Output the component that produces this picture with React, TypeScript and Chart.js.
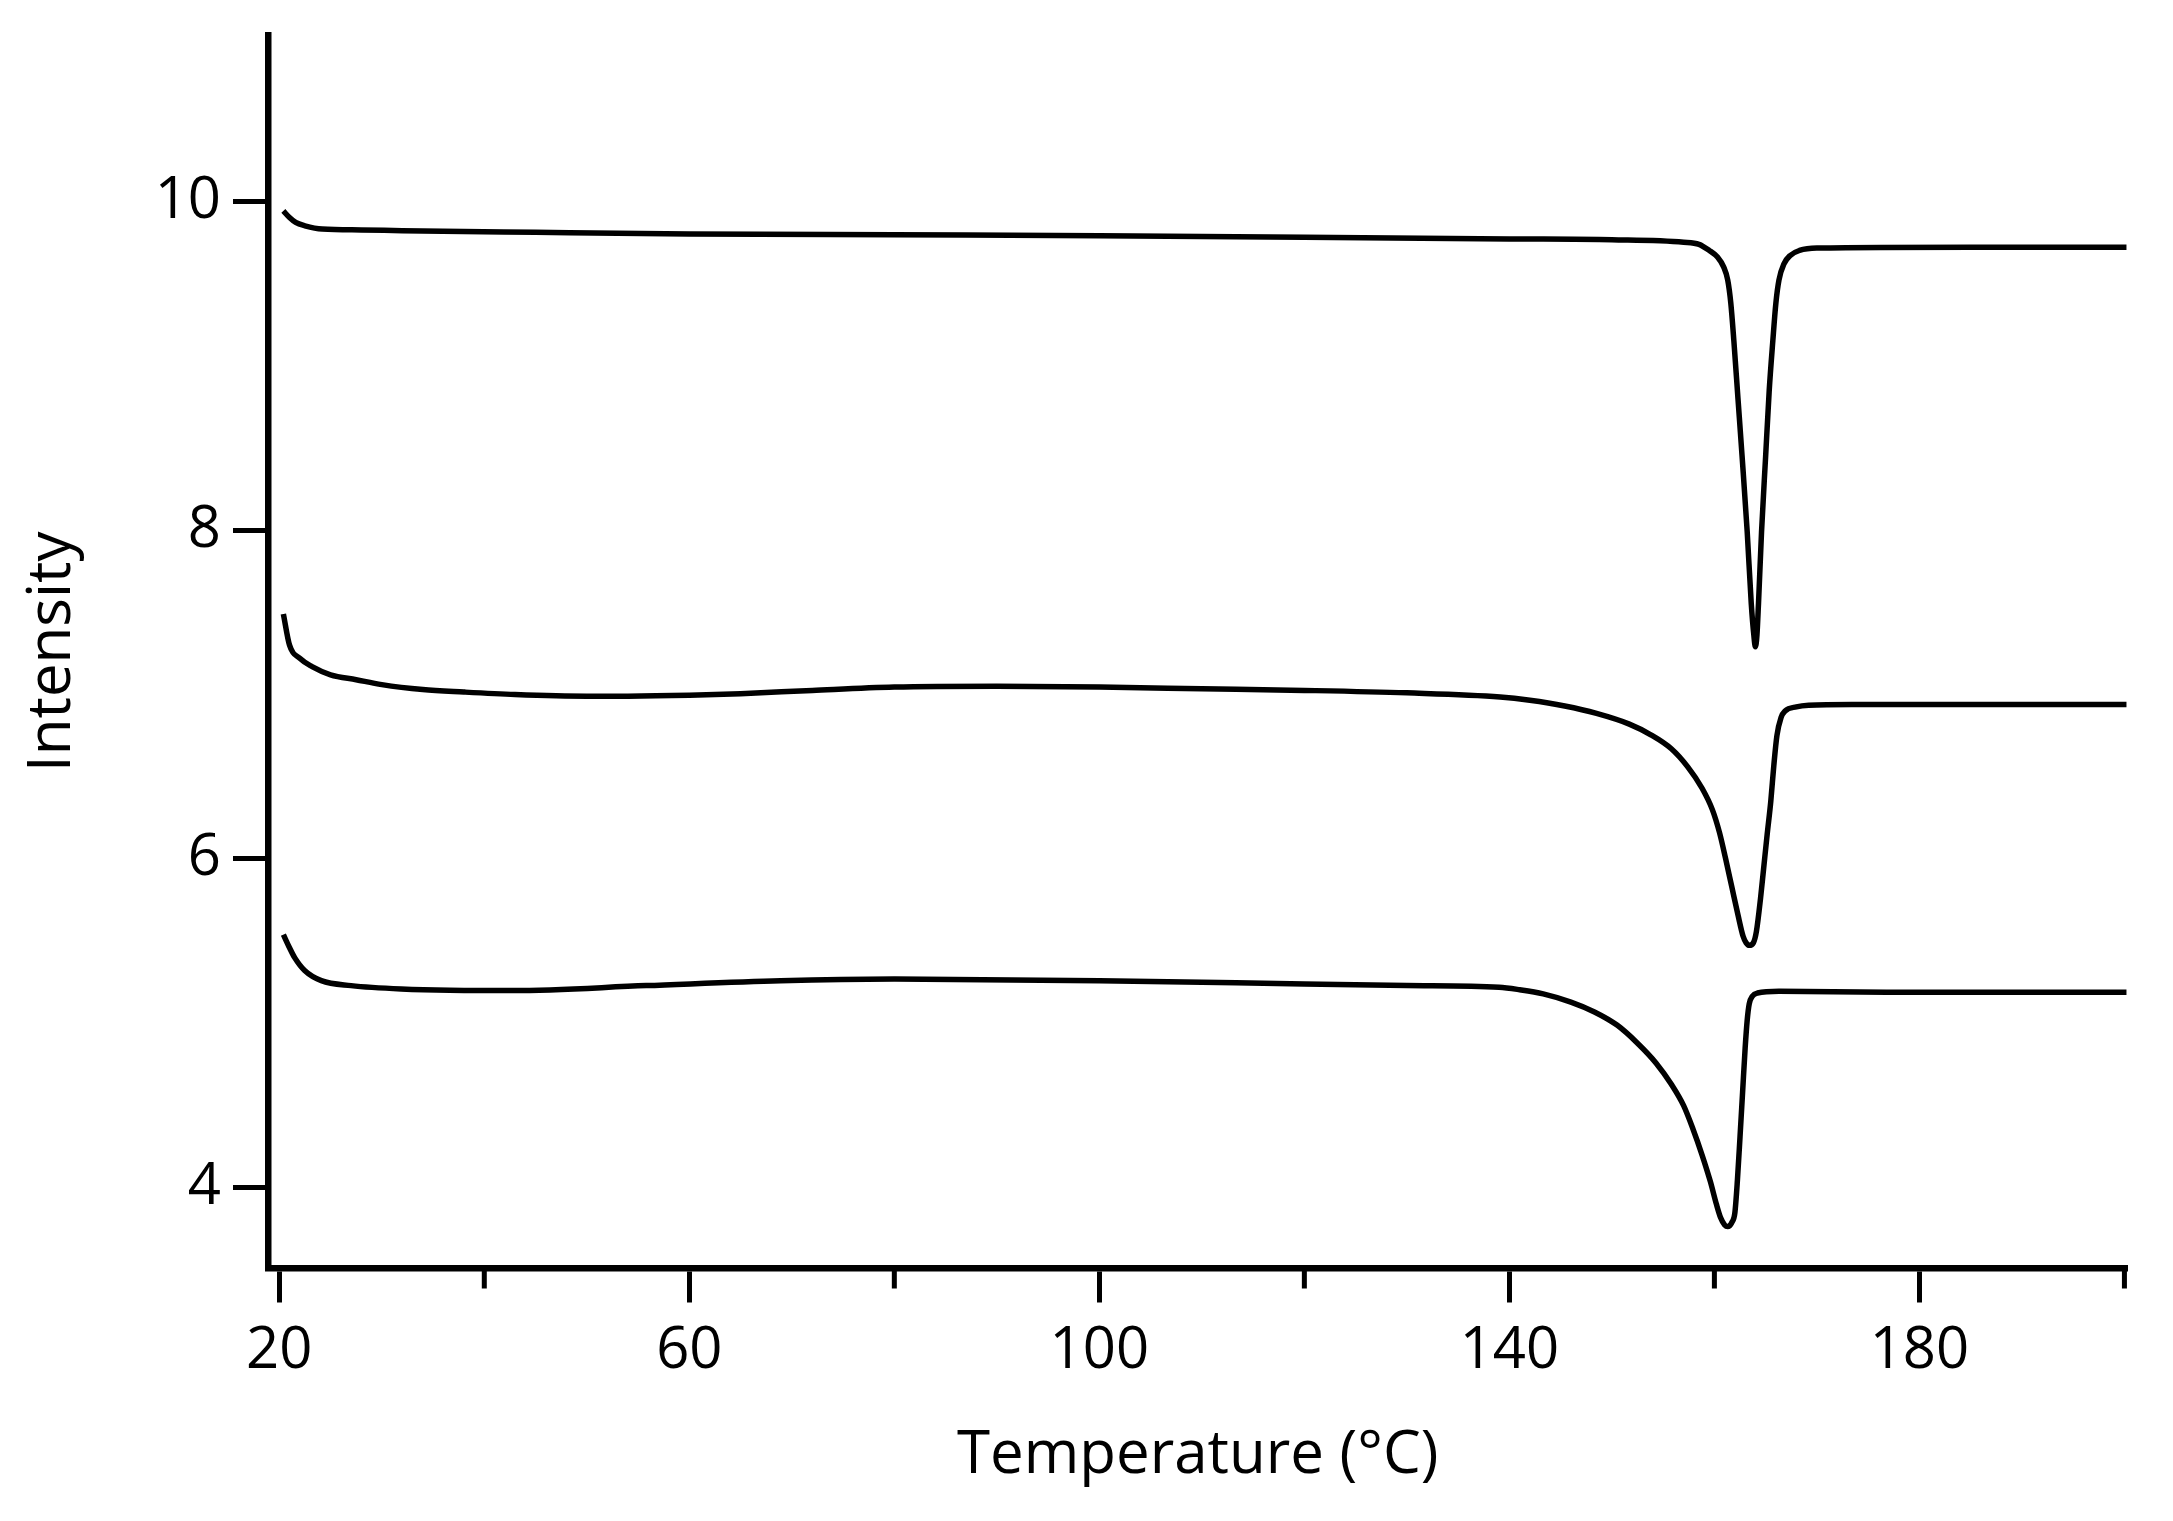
import React, { useEffect, useRef } from 'react';
import { Chart, registerables } from 'chart.js';

Chart.register(...registerables);

// ---- Data ----
const xMajorTicks = [20, 60, 100, 140, 180];
const xMinorTicks = [40, 80, 120, 160, 200];
const yTickValues = [4, 6, 8, 10];

const topTemp = [20.4, 21.0, 21.6, 22.5, 24.2, 28, 32, 45, 60, 80, 100, 120, 140, 150, 157, 158.5, 159.5, 160.3, 160.9, 161.3, 161.6, 161.9, 162.3, 162.7, 163.2, 163.6, 163.85, 164.0, 164.15, 164.3, 164.6, 165.0, 165.35, 165.7, 166.0, 166.3, 166.8, 167.4, 168.3, 170, 185, 200.2];
const topVal = [9.94, 9.9, 9.87, 9.85, 9.83, 9.825, 9.82, 9.81, 9.8, 9.795, 9.79, 9.78, 9.77, 9.765, 9.75, 9.737, 9.7, 9.66, 9.6, 9.52, 9.38, 9.15, 8.8, 8.45, 7.99, 7.55, 7.36, 7.29, 7.36, 7.55, 7.99, 8.45, 8.85, 9.15, 9.38, 9.52, 9.62, 9.67, 9.7, 9.715, 9.72, 9.72];

const midTemp = [20.4, 21.0, 22.0, 23.2, 25, 27.5, 30, 34, 38, 43, 50, 54, 60, 65, 72, 80, 90, 100, 110, 120, 130, 139.1, 142, 145.4, 148.5, 151.7, 153.8, 155.8, 157.4, 158.8, 159.8, 160.5, 161.1, 161.7, 162.3, 162.8, 163.1, 163.4, 163.8, 164.1, 164.5, 164.8, 165.15, 165.5, 165.8, 166.1, 166.5, 166.9, 168, 169.2, 173.4, 185, 200.2];
const midVal = [7.49, 7.3, 7.22, 7.17, 7.12, 7.09, 7.06, 7.03, 7.015, 7.0, 6.99, 6.99, 6.995, 7.005, 7.025, 7.045, 7.05, 7.045, 7.035, 7.025, 7.01, 6.985, 6.965, 6.93, 6.885, 6.82, 6.755, 6.67, 6.56, 6.43, 6.3, 6.16, 6.0, 5.83, 5.66, 5.53, 5.49, 5.475, 5.49, 5.56, 5.76, 5.94, 6.15, 6.35, 6.57, 6.75, 6.86, 6.9, 6.925, 6.935, 6.94, 6.94, 6.94];

const botTemp = [20.4, 21.0, 21.5, 22.5, 24.1, 27, 31.9, 42.8, 55.8, 68.9, 80, 100, 120, 130, 139, 141, 143.3, 146, 148.3, 150.5, 152.5, 154.3, 155.8, 157, 157.9, 158.8, 159.6, 160.2, 160.6, 161.0, 161.3, 161.7, 162.0, 162.25, 162.5, 162.75, 163.0, 163.2, 163.4, 163.7, 164.2, 166.3, 176.8, 200.2];
const botVal = [5.54, 5.46, 5.4, 5.32, 5.26, 5.23, 5.21, 5.2, 5.23, 5.26, 5.27, 5.26, 5.24, 5.23, 5.22, 5.205, 5.18, 5.13, 5.07, 4.99, 4.88, 4.76, 4.63, 4.5, 4.36, 4.2, 4.04, 3.9, 3.82, 3.775, 3.765, 3.79, 3.85, 4.05, 4.31, 4.58, 4.85, 5.02, 5.12, 5.165, 5.185, 5.195, 5.19, 5.19];

const xTitle = 'Temperature (°C)';
const yTitle = 'Intensity';

const FONT = "'Open Sans', 'Noto Sans', sans-serif";

function toPoints(xs: number[], ys: number[]) {
  return xs.map((x, i) => ({ x, y: ys[i] }));
}

const minorTickPlugin = {
  id: 'minorTicks',
  afterDraw(chart: any) {
    const xs = chart.scales.x;
    const ctx = chart.ctx;
    ctx.save();
    ctx.strokeStyle = '#000';
    ctx.lineWidth = 5;
    ctx.beginPath();
    for (const v of xMinorTicks) {
      const px = xs.getPixelForValue(v);
      ctx.moveTo(px, xs.top);
      ctx.lineTo(px, xs.top + 20);
    }
    ctx.stroke();
    ctx.restore();
  },
};

export default function App() {
  const ref = useRef<HTMLCanvasElement>(null);

  useEffect(() => {
    document.body.style.margin = '0';
    const allX = [...xMajorTicks, ...xMinorTicks].sort((a, b) => a - b);
    const chart = new Chart(ref.current as HTMLCanvasElement, {
      type: 'line',
      data: {
        datasets: [
          { data: toPoints(topTemp, topVal) },
          { data: toPoints(midTemp, midVal) },
          { data: toPoints(botTemp, botVal) },
        ].map((d) => ({
          ...d,
          borderColor: '#000',
          borderWidth: 5.5,
          pointRadius: 0,
          fill: false,
          cubicInterpolationMode: 'monotone' as const,
        })),
      },
      options: {
        animation: false,
        responsive: false,
        devicePixelRatio: 1,
        layout: { padding: { top: 35, left: 10, right: 45.5, bottom: 29.5 } },
        plugins: { legend: { display: false }, tooltip: { enabled: false } },
        scales: {
          x: {
            type: 'linear',
            min: 18.9,
            max: 200.3,
            afterBuildTicks: (s: any) => {
              s.ticks = allX.map((v) => ({ value: v }));
            },
            afterFit: (s: any) => {
              s.height = 223;
            },
            ticks: {
              autoSkip: false,
              maxRotation: 0,
              padding: 14,
              color: '#000',
              font: { family: FONT, size: 58 },
              callback: (v: any) => (xMajorTicks.includes(Number(v)) ? String(v) : ''),
            },
            grid: {
              drawOnChartArea: false,
              drawTicks: true,
              tickLength: 34,
              tickWidth: 5,
              tickColor: (c: any) =>
                c.tick && xMajorTicks.includes(c.tick.value) ? '#000' : 'rgba(0,0,0,0)',
            },
            border: { display: true, width: 6.5, color: '#000' },
            title: {
              display: true,
              text: xTitle,
              color: '#000',
              font: { family: FONT, size: 60, lineHeight: 1.2 },
              padding: { top: 0, bottom: 0 },
            },
          },
          y: {
            type: 'linear',
            min: 3.51,
            max: 11.01,
            afterBuildTicks: (s: any) => {
              s.ticks = yTickValues.map((v) => ({ value: v }));
            },
            afterFit: (s: any) => {
              s.width = 258;
            },
            ticks: {
              padding: 12,
              color: '#000',
              font: { family: FONT, size: 58, lineHeight: 0.5 },
              callback: (v: any) => String(v),
            },
            grid: {
              drawOnChartArea: false,
              drawTicks: true,
              tickLength: 35,
              tickWidth: 5,
              tickColor: '#000',
            },
            border: { display: true, width: 6.5, color: '#000' },
            title: {
              display: true,
              text: yTitle,
              color: '#000',
              font: { family: FONT, size: 60, lineHeight: 1.2 },
              padding: { top: 7, bottom: 0 },
            },
          },
        },
      },
      plugins: [minorTickPlugin],
    } as any);
    return () => chart.destroy();
  }, []);

  return (
    <canvas
      ref={ref}
      width={2173}
      height={1521}
      style={{ display: 'block', width: 2173, height: 1521 }}
    />
  );
}
